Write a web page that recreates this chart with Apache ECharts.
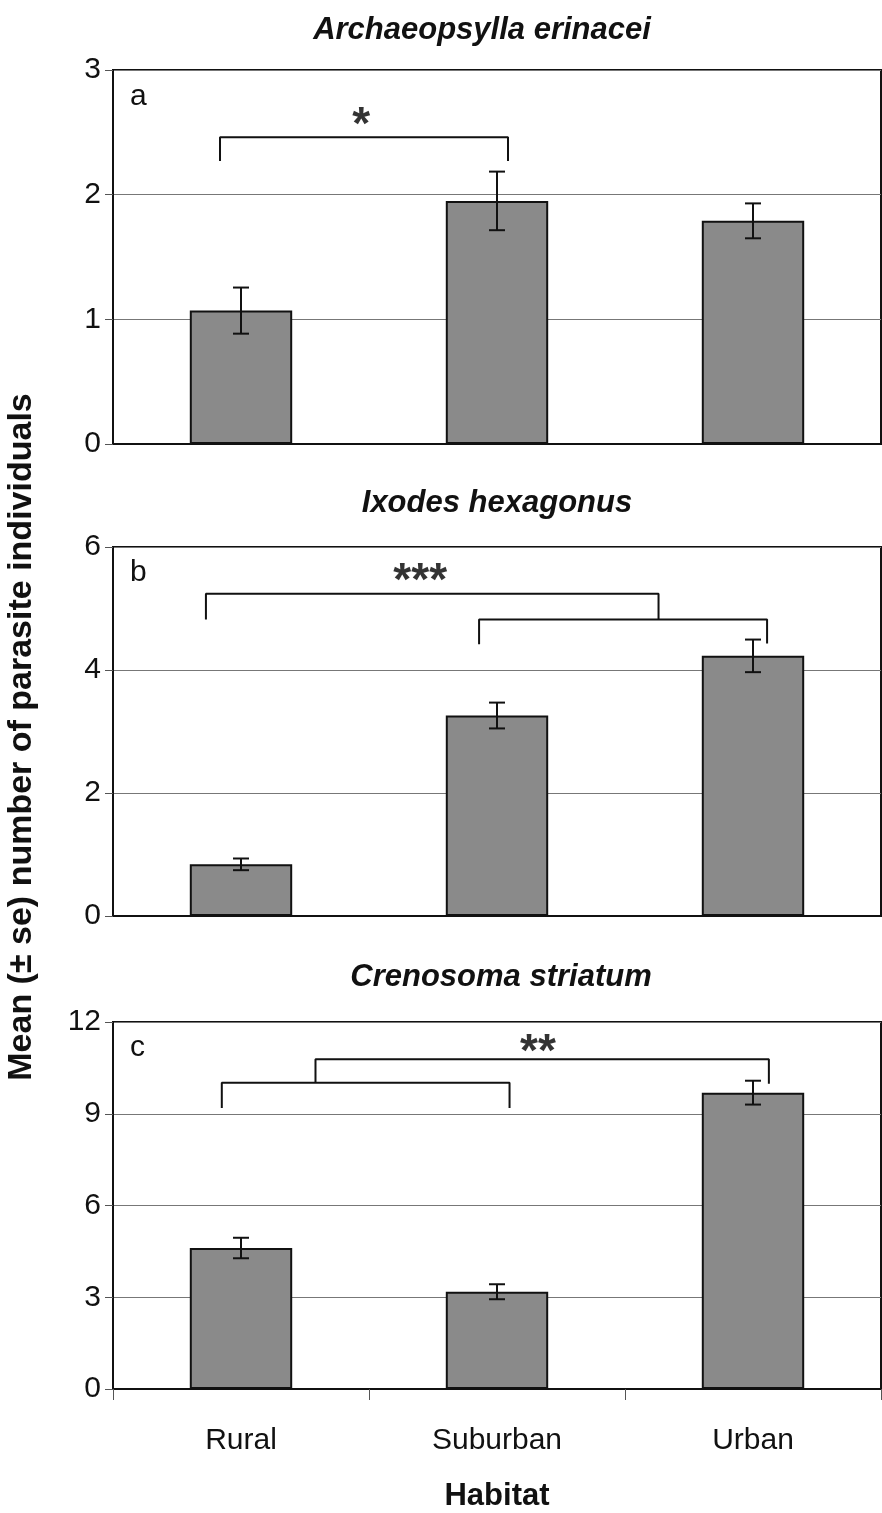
<!DOCTYPE html>
<html>
<head>
<meta charset="utf-8">
<script src="https://cdn.jsdelivr.net/npm/echarts@6/dist/echarts.min.js"></script>
<style>
  html, body { margin: 0; padding: 0; background: #fff; }
  #chart { width: 882px; height: 1513px; }
</style>
</head>
<body>
<div id="chart"></div>
<script>
// categories
var habitats = ['Rural', 'Suburban', 'Urban'];

// panel a - Archaeopsylla erinacei
var fleaMean = [1.07, 1.95, 1.79];
var fleaSe = [0.185, 0.235, 0.14];
// panel b - Ixodes hexagonus
var tickMean = [0.84, 3.26, 4.23];
var tickSe = [0.095, 0.21, 0.265];
// panel c - Crenosoma striatum
var wormMean = [4.61, 3.18, 9.69];
var wormSe = [0.335, 0.245, 0.39];

// y axis ranges / tick steps
var yMax = [3, 6, 12];
var yStep = [1, 2, 3];

// significance brackets (x in category units 0..3, y in data units)
var bracketA = [[0.418, 2.27], [0.418, 2.46], [1.543, 2.46], [1.543, 2.27]];
var bracketB1 = [[0.363, 4.82], [0.363, 5.24], [2.131, 5.24], [2.131, 4.82]];
var bracketB2 = [[1.430, 4.42], [1.430, 4.82], [2.555, 4.82], [2.555, 4.43]];
var bracketC1 = [[0.425, 9.19], [0.425, 10.01], [1.549, 10.01], [1.549, 9.19]];
var bracketC2 = [[0.791, 10.01], [0.791, 10.78], [2.562, 10.78], [2.562, 9.98]];
var starsA = [[0.97, 2.55, '*']];
var starsB = [[1.2, 5.42, '***']];
var starsC = [[1.66, 10.96, '**']];

var titles = ['Archaeopsylla erinacei', 'Ixodes hexagonus', 'Crenosoma striatum'];
var letters = ['a', 'b', 'c'];

var FONT = '"Liberation Sans", Arial, sans-serif';
var chart = echarts.init(document.getElementById('chart'));

var grids = [
  { left: 113, top: 70, width: 768, height: 374 },
  { left: 113, top: 547, width: 768, height: 369 },
  { left: 113, top: 1022, width: 768, height: 372 }
];

function errBars(mean, se) {
  return mean.map(function (m, i) { return [i, m - se[i], m + se[i]]; });
}

function renderErr(params, api) {
  var lo = api.coord([api.value(0), api.value(1)]);
  var hi = api.coord([api.value(0), api.value(2)]);
  var x = lo[0], cap = 8;
  var st = { stroke: '#111', lineWidth: 2 };
  return {
    type: 'group',
    children: [
      { type: 'line', shape: { x1: x, y1: lo[1], x2: x, y2: hi[1] }, style: st },
      { type: 'line', shape: { x1: x - cap, y1: lo[1], x2: x + cap, y2: lo[1] }, style: st },
      { type: 'line', shape: { x1: x - cap, y1: hi[1], x2: x + cap, y2: hi[1] }, style: st }
    ]
  };
}

var means = [fleaMean, tickMean, wormMean];
var ses = [fleaSe, tickSe, wormSe];
var brackets = [[bracketA], [bracketB1, bracketB2], [bracketC1, bracketC2]];
var stars = [starsA, starsB, starsC];

var xAxes = [], yAxes = [], series = [];
for (var p = 0; p < 3; p++) {
  var last = p === 2;
  xAxes.push({
    type: 'category', gridIndex: p, data: habitats,
    axisLine: { lineStyle: { color: '#111', width: 2 } },
    axisTick: { show: last, length: 11, lineStyle: { color: '#555', width: 1 } },
    axisLabel: { show: last, margin: 37, color: '#111', fontSize: 30, fontFamily: FONT },
    name: last ? 'Habitat' : '', nameLocation: 'middle', nameGap: 92,
    nameTextStyle: { fontSize: 31, fontWeight: 'bold', color: '#111', fontFamily: FONT }
  });
  // hidden value axis used for the bracket annotations
  xAxes.push({ type: 'value', gridIndex: p, min: 0, max: 3, show: false });
  yAxes.push({
    type: 'value', gridIndex: p, min: 0, max: yMax[p], interval: yStep[p],
    axisLine: { show: true, lineStyle: { color: '#111', width: 2 } },
    axisTick: { show: true, length: 8, lineStyle: { color: '#555', width: 1 } },
    axisLabel: { margin: 12, color: '#111', fontSize: 30, fontFamily: FONT },
    splitLine: { lineStyle: { color: '#777', width: 1 } }
  });
  series.push({
    type: 'bar', xAxisIndex: p * 2, yAxisIndex: p, data: means[p], barWidth: '40%',
    itemStyle: { color: '#8a8a8a', borderColor: '#111', borderWidth: 2 }
  });
  series.push({
    type: 'custom', xAxisIndex: p * 2, yAxisIndex: p, data: errBars(means[p], ses[p]),
    renderItem: renderErr, z: 5
  });
  brackets[p].forEach(function (b) {
    series.push({
      type: 'line', xAxisIndex: p * 2 + 1, yAxisIndex: p, data: b, symbol: 'none',
      lineStyle: { color: '#111', width: 2 }, z: 6
    });
  });
  series.push({
    type: 'scatter', xAxisIndex: p * 2 + 1, yAxisIndex: p, data: stars[p], symbolSize: 0,
    label: {
      show: true, position: 'inside', color: '#000', fontSize: 46, fontWeight: 'bold', fontFamily: FONT,
      formatter: function (d) { return d.value[2]; }
    }, z: 6
  });
}

var titleY = [30, 503, 977];
var titleX = [482, 497, 501];
var letterY = [97, 573, 1048];
var graphics = [];
for (var k = 0; k < 3; k++) {
  graphics.push({
    type: 'text', x: titleX[k], y: titleY[k],
    style: { text: titles[k], fill: '#111', font: 'italic bold 31px ' + FONT, align: 'center', verticalAlign: 'middle' }
  });
  graphics.push({
    type: 'text', x: 130, y: letterY[k],
    style: { text: letters[k], fill: '#111', font: '30px ' + FONT, align: 'left', verticalAlign: 'middle' }
  });
}
graphics.push({
  type: 'text', x: 22, y: 737, rotation: Math.PI / 2,
  style: { text: 'Mean (\u00b1 se) number of parasite individuals', fill: '#111', font: 'bold 34px ' + FONT, align: 'center', verticalAlign: 'middle' }
});

chart.setOption({
  backgroundColor: '#fff',
  animation: false,
  grid: grids.map(function (g) {
    return Object.assign({ show: true, borderColor: '#111', borderWidth: 2, backgroundColor: '#fff' }, g);
  }),
  xAxis: xAxes,
  yAxis: yAxes,
  series: series,
  graphic: graphics
});
</script>
</body>
</html>
